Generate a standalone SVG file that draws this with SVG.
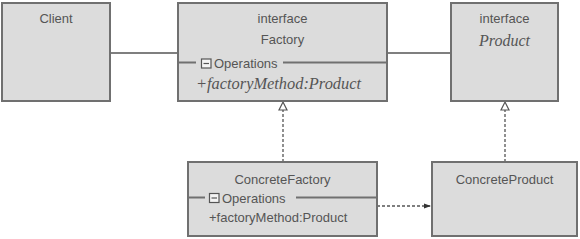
<svg xmlns="http://www.w3.org/2000/svg" width="580" height="239" viewBox="0 0 580 239">
<style>
.box{fill:#dcdcdc;stroke:#707070;stroke-width:2}
.t{font-family:"Liberation Sans",Arial,sans-serif;font-size:13px;fill:#555}
.m{font-family:"Liberation Serif","Times New Roman",serif;font-style:italic;font-size:16px;fill:#555}
.sep{stroke:#707070;stroke-width:2;fill:none}
.ic{fill:#f4f4f4;stroke:#555;stroke-width:1.2}
.c{stroke:#555;stroke-width:1.3;fill:none}
.d{stroke:#555;stroke-width:1.3;fill:none;stroke-dasharray:3 2}
</style>
<defs>
<marker id="tri" markerWidth="10" markerHeight="10" refX="5" refY="1" orient="auto-start-reverse" markerUnits="userSpaceOnUse" viewBox="0 0 10 10">
<path d="M5,1 L9,8 L1,8 Z" fill="#fff" stroke="#555" stroke-width="1.2"/>
</marker>
<marker id="fill" markerWidth="8" markerHeight="8" refX="7" refY="4" orient="auto" markerUnits="userSpaceOnUse" viewBox="0 0 8 8">
<path d="M0,1.5 L7,4 L0,6.5 Z" fill="#333"/>
</marker>
</defs>
<g id="connectors">
<line class="c" x1="110" y1="53" x2="178" y2="53"/>
<line class="c" x1="387" y1="53" x2="451" y2="53"/>
<line class="d" x1="283" y1="162" x2="283" y2="110" />
<path d="M283,102 L287,110 L279,110 Z" fill="#fff" stroke="#555" stroke-width="1.2"/>
<line class="d" x1="505" y1="162" x2="505" y2="110"/>
<path d="M505,102 L509,110 L501,110 Z" fill="#fff" stroke="#555" stroke-width="1.2"/>
<line class="d" x1="377" y1="206" x2="431" y2="206" marker-end="url(#fill)"/>
</g>
<g id="Client">
<rect class="box" x="2" y="3" width="108" height="98"/>
<text class="t" x="56" y="23" text-anchor="middle">Client</text>
</g>
<g id="Factory">
<rect class="box" x="178" y="3" width="209" height="98"/>
<text class="t" x="282.5" y="23" text-anchor="middle">interface</text>
<text class="t" x="282.5" y="44" text-anchor="middle">Factory</text>
<line class="sep" x1="178" y1="62.5" x2="196" y2="62.5"/>
<rect class="ic" x="201.5" y="59" width="9.5" height="9"/>
<line x1="203.5" y1="63.5" x2="209" y2="63.5" stroke="#555" stroke-width="1.2"/>
<text class="t" x="214" y="67.5">Operations</text>
<line class="sep" x1="283" y1="62.5" x2="387" y2="62.5"/>
<text class="m" x="196" y="88.5" textLength="165" lengthAdjust="spacingAndGlyphs">+factoryMethod:Product</text>
</g>
<g id="Product">
<rect class="box" x="451" y="3" width="107" height="98"/>
<text class="t" x="504.5" y="23" text-anchor="middle">interface</text>
<text class="m" x="504.5" y="45.5" text-anchor="middle">Product</text>
</g>
<g id="ConcreteFactory">
<rect class="box" x="188" y="162" width="189" height="74"/>
<text class="t" x="282.5" y="184" text-anchor="middle">ConcreteFactory</text>
<line class="sep" x1="188" y1="197.5" x2="205" y2="197.5"/>
<rect class="ic" x="209.5" y="193.5" width="9.5" height="9"/>
<line x1="211.5" y1="198" x2="217" y2="198" stroke="#555" stroke-width="1.2"/>
<text class="t" x="222" y="202.5">Operations</text>
<line class="sep" x1="296" y1="197.5" x2="377" y2="197.5"/>
<text class="t" x="209" y="222">+factoryMethod:Product</text>
</g>
<g id="ConcreteProduct">
<rect class="box" x="432" y="162" width="145" height="74"/>
<text class="t" x="504.5" y="184" text-anchor="middle">ConcreteProduct</text>
</g>
</svg>
